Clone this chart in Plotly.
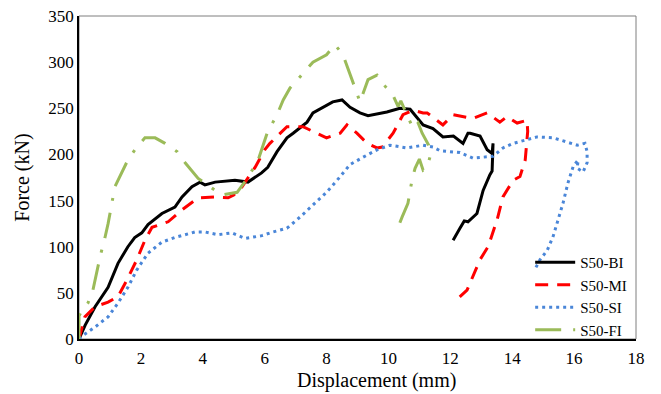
import plotly.graph_objects as go

# S50-BI (black solid)
bi_x = [0, 0.2, 0.52, 0.94, 1.26, 1.58, 1.8, 2.03, 2.23, 2.68, 3.1, 3.33, 3.65, 3.91, 4.07, 4.4, 5.04, 5.46, 5.9,
        6.1, 6.4, 6.72, 6.92, 7.37, 7.56, 7.89, 8.2, 8.5, 8.76, 9.08, 9.34, 9.95, 10.37, 10.7, 11.12, 11.44, 11.76,
        12.1, 12.41, 12.57, 12.64, 12.96, 13.19, 13.35, 13.38, 13.35, 13.28, 13.06, 12.86, 12.57, 12.45, 12.31, 12.09]
bi_y = [0, 15, 35, 56, 82, 100, 110, 115, 124, 136, 143, 154, 165, 170, 167, 170, 172, 170, 180,
        186, 203, 218, 223, 235, 245, 251, 257, 259, 251, 245, 242, 246, 250, 249, 232, 228, 219,
        220, 212, 223, 223, 220, 205, 201, 212, 182, 178, 161, 136, 127, 128, 120, 107]

# S50-MI (red dashed)
mi_x = [0, 0.19, 0.52, 0.94, 1.26, 1.55, 1.87, 2.13, 2.36, 2.88, 3.33, 3.85, 4.4, 4.82, 5.0, 5.27, 5.69, 6.0,
        6.17, 6.72, 7.24, 7.5, 8.0, 8.44, 8.66, 8.98, 9.31, 9.63, 9.8, 10.15, 10.47, 10.8, 11.12, 11.25, 11.76,
        12.09, 12.73, 13.19, 13.6, 13.83, 14.16, 14.48, 14.5, 14.42, 14.25, 14.03, 13.7, 13.51, 13.22, 12.96,
        12.73, 12.54, 12.25]
mi_y = [0, 24, 35, 40, 46, 64, 86, 107, 121, 127, 140, 153, 154, 153, 156, 165, 186, 205,
        212, 230, 230, 226, 218, 223, 232, 223, 212, 207, 208, 223, 243, 248, 245, 245, 232,
        243, 239, 245, 235, 241, 234, 237, 225, 194, 176, 172, 154, 129, 100, 86,
        67, 53, 44]

# S50-SI (blue dotted)
si_x = [0, 0.13, 0.52, 0.94, 1.26, 1.58, 1.87, 2.23, 2.68, 3.1, 3.75, 4.07, 4.49, 4.94, 5.37, 5.91, 6.27, 6.72,
        7.14, 7.56, 8.0, 8.34, 8.76, 9.18, 9.63, 10.05, 10.6, 11.12, 11.44, 11.67, 12.31, 12.73, 13.38, 13.7,
        14.03, 14.48, 14.8, 15.32, 15.77, 16.1, 16.35, 16.42, 16.42, 16.29, 16.1, 16.13, 15.97, 15.8, 15.64,
        15.48, 15.32, 15.13, 14.9, 14.71]
si_y = [0, 4, 13, 24, 39, 56, 75, 93, 105, 110, 116, 116, 113, 115, 109, 112, 116, 120,
        132, 145, 159, 172, 189, 197, 205, 210, 207, 210, 208, 204, 202, 196, 198, 207,
        212, 216, 219, 218, 213, 210, 212, 203, 191, 181, 185, 194, 187, 169, 147,
        129, 111, 96, 86, 74]

# S50-FI (green long dash-dot)
fi_x = [0, 0, 0.05, 0.29, 0.45, 0.68, 0.84, 0.94, 1.16, 1.39, 1.58, 1.87, 2.13, 2.46, 2.78, 3.17, 3.43, 3.85,
        4.23, 4.62, 5.11, 5.46, 5.79, 5.91, 6.08, 6.27, 6.4, 6.6, 6.82, 7.14, 7.56, 8.0, 8.27, 8.53, 8.76, 8.92,
        9.08, 9.18, 9.34, 9.63, 9.89, 10.15, 10.31, 10.4, 10.6, 10.8, 10.96, 11.09, 11.3, 11.34, 11.25, 11.12,
        11.0, 10.86, 10.76, 10.63, 10.44, 10.31]
fi_y = [0, 25, 28, 39, 53, 89, 110, 125, 165, 181, 194, 208, 218, 218, 212, 203, 191, 174,
        165, 156, 159, 175, 194, 207, 223, 235, 243, 259, 272, 284, 300, 308, 319, 308, 288, 272,
        257, 266, 281, 286, 274, 264, 252, 258, 242, 228, 234, 223, 210, 197, 186, 183,
        195, 185, 172, 147, 132, 121]

x_ticks = [0, 2, 4, 6, 8, 10, 12, 14, 16, 18]
y_ticks = [0, 50, 100, 150, 200, 250, 300, 350]
x_title = "Displacement (mm)"
y_title = "Force (kN)"

font = "Liberation Serif"

fig = go.Figure()
fig.add_trace(go.Scatter(x=bi_x, y=bi_y, mode="lines", name="S50-BI",
                         line=dict(color="#000000", width=3)))
fig.add_trace(go.Scatter(x=mi_x, y=mi_y, mode="lines", name="S50-MI",
                         line=dict(color="#ff0000", width=3, dash="13px,9px")))
fig.add_trace(go.Scatter(x=si_x, y=si_y, mode="lines", name="S50-SI",
                         line=dict(color="#4a86d8", width=3, dash="3px,4px")))
fig.add_trace(go.Scatter(x=fi_x, y=fi_y, mode="lines", name="S50-FI",
                         line=dict(color="#9bbb59", width=3, dash="26px,12px,3px,12px")))

fig.update_layout(
    width=661, height=394,
    margin=dict(l=79, r=25, t=16, b=55, autoexpand=False),
    paper_bgcolor="white", plot_bgcolor="white",
    font=dict(family=font, size=17, color="black"),
    showlegend=True,
    legend=dict(x=0.81, y=-0.022, xanchor="left", yanchor="bottom",
                bgcolor="rgba(255,255,255,0)", font=dict(family=font, size=15),
                tracegroupgap=0, itemwidth=40),
    xaxis=dict(range=[0, 18], tickvals=x_ticks, ticks="", showgrid=False, zeroline=False,
               showline=True, linecolor="black", linewidth=1.5, automargin=False,
               tickfont=dict(family=font, size=17), ticklabelstandoff=3),
    yaxis=dict(range=[0, 350], tickvals=y_ticks, ticks="", showgrid=False, zeroline=False,
               showline=True, linecolor="black", linewidth=1.5, automargin=False,
               tickfont=dict(family=font, size=17)),
    annotations=[
        dict(text=x_title, xref="paper", yref="paper", x=0.535, y=-0.13,
             xanchor="center", yanchor="middle", showarrow=False,
             font=dict(family=font, size=20)),
        dict(text=y_title, xref="paper", yref="paper", x=-0.102, y=0.5,
             xanchor="center", yanchor="middle", showarrow=False, textangle=-90,
             font=dict(family=font, size=20)),
    ],
    shapes=[dict(type="rect", xref="paper", yref="paper", x0=0, y0=0, x1=1, y1=1,
                 line=dict(color="#7f7f7f", width=1), layer="below")],
)

fig.write_html("out.html")
